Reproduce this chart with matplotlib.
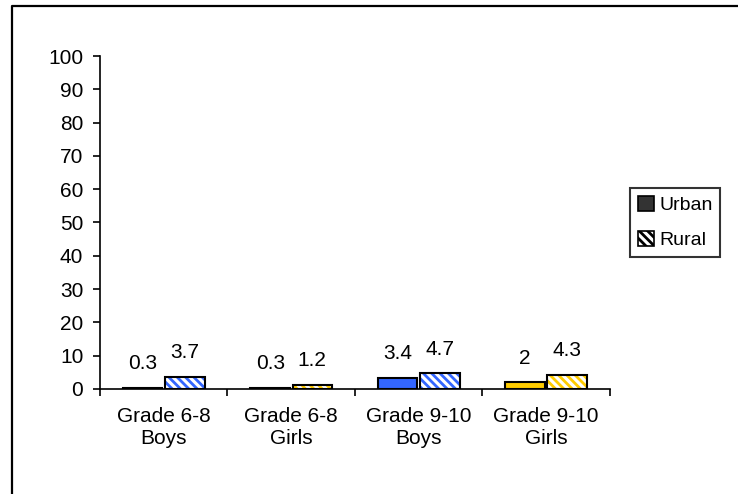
import matplotlib
matplotlib.use("Agg")
import matplotlib.pyplot as plt
from matplotlib.lines import Line2D
from matplotlib.patches import Patch
import numpy as np

plt.rcParams["font.family"] = ["Liberation Sans", "DejaVu Sans"]
plt.rcParams["hatch.linewidth"] = 2.0

categories = ["Grade 6-8\nBoys", "Grade 6-8\nGirls", "Grade 9-10\nBoys", "Grade 9-10\nGirls"]
urban = [0.3, 0.3, 3.4, 2]
rural = [3.7, 1.2, 4.7, 4.3]
colors = ["#3366FF", "#FFCC00", "#3366FF", "#FFCC00"]
yticks = list(range(0, 101, 10))

fig = plt.figure(figsize=(7.38, 4.94), dpi=100)
ax = fig.add_axes([0.1355, 0.2126, 0.691, 0.674])

x = np.arange(len(categories))
w = 0.31
off = 0.165

for i in range(len(categories)):
    ax.bar(x[i] - off, urban[i], w, color=colors[i], edgecolor="black", linewidth=1.5, zorder=3)
    # hatched rural bar: coloured stripes on white, then black outline on top
    ax.bar(x[i] + off, rural[i], w, color="white", edgecolor=colors[i], hatch="\\\\\\\\",
           linewidth=0, zorder=3)
    ax.bar(x[i] + off, rural[i], w, fill=False, edgecolor="black", linewidth=1.5, zorder=4)
    ax.text(x[i] - off, urban[i] + 5.6, f"{urban[i]:g}", ha="center", va="baseline", fontsize=15)
    ax.text(x[i] + off, rural[i] + 5.6, f"{rural[i]:g}", ha="center", va="baseline", fontsize=15)

ax.set_xlim(-0.5, len(categories) - 0.5)
ax.set_ylim(0, 100)
ax.set_yticks(yticks)
ax.tick_params(axis="y", labelsize=15, length=5, width=1.2, direction="out", pad=7)
ax.set_xticks(np.arange(-0.5, len(categories), 1.0))
ax.set_xticklabels([])
ax.set_xticks(x, minor=True)
ax.set_xticklabels(categories, minor=True, fontsize=15)
ax.tick_params(axis="x", which="major", length=5, width=1.2, direction="out")
ax.tick_params(axis="x", which="minor", length=0, pad=13)
for side in ["top", "right"]:
    ax.spines[side].set_visible(False)
for side in ["left", "bottom"]:
    ax.spines[side].set_linewidth(1.2)

handles = [
    Patch(facecolor="#333333", edgecolor="black", linewidth=1.2, label="Urban"),
    Patch(facecolor="white", edgecolor="black", hatch="\\\\\\\\", linewidth=1.2, label="Rural"),
]
leg = fig.legend(handles=handles, loc="upper left", bbox_to_anchor=(630 / 738, 1 - 188 / 494),
                 fontsize=14, frameon=True, fancybox=False, handlelength=0.85, handleheight=0.85,
                 handletextpad=0.25, borderpad=0.4, labelspacing=0.85, borderaxespad=0)
leg.get_frame().set_edgecolor("black")
leg.get_frame().set_linewidth(1.5)

# outer frame: only the left and top edges fall inside the picture
fig.add_artist(Line2D([12.5 / 738, 12.5 / 738, 1.0], [0.0, 1 - 6 / 494, 1 - 6 / 494],
                      transform=fig.transFigure, color="black", linewidth=1.6))

fig.savefig("out.png", dpi=100)
